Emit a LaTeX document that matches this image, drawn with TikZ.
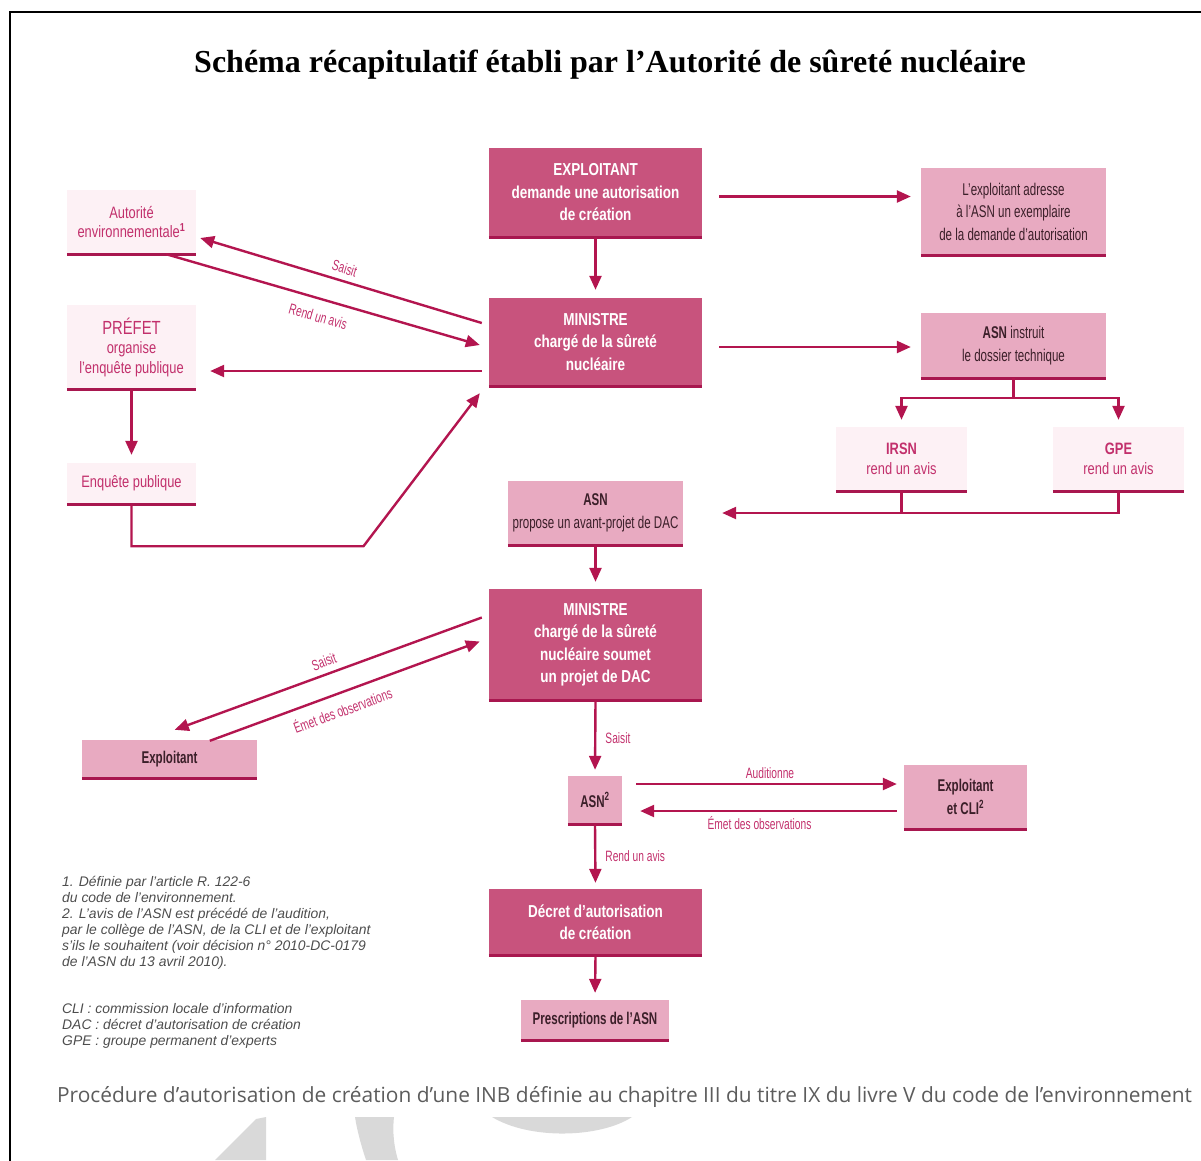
\documentclass[tikz,border=0pt]{standalone}
\usepackage{fontspec}
\setmainfont{Liberation Serif}
\newfontfamily\boxfont[FakeStretch=0.78]{Liberation Sans}
\newfontfamily\slimfont[FakeStretch=0.68]{Liberation Sans}
\newfontfamily\notefont{Liberation Sans}
\newfontfamily\capfont{Open Sans}
\usetikzlibrary{arrows.meta, calc}

\definecolor{asnDark}{HTML}{C8537D}
\definecolor{asnMid}{HTML}{E8AAC1}
\definecolor{asnPale}{HTML}{FDF1F5}
\definecolor{asnLine}{HTML}{A8174F}
\definecolor{asnArrow}{HTML}{B3154F}
\definecolor{asnText}{HTML}{C2306C}
\definecolor{asnInk}{HTML}{3B1F29}
\definecolor{noteGray}{HTML}{4D4D4D}
\definecolor{capGray}{HTML}{5C5C5C}

\tikzset{
  darkbox/.style={fill=asnDark, text=white, align=center, inner sep=0pt,
    font=\boxfont\bfseries\fontsize{17.3}{22.5}\selectfont},
  midbox/.style={fill=asnMid, text=asnInk, align=center, inner sep=0pt,
    font=\slimfont\fontsize{17}{22.5}\selectfont},
  palebox/.style={fill=asnPale, text=asnText, align=center, inner sep=0pt,
    font=\boxfont\fontsize{16.5}{19.5}\selectfont},
  rule/.style={draw=asnLine, line width=3pt},
  lnk/.style={draw=asnArrow, line width=2.4pt},
  arr/.style={lnk, -{Triangle[length=14pt,width=12pt]}},
  lbl/.style={text=asnText, font=\slimfont\fontsize{15}{16}\selectfont, inner sep=1pt},
  note/.style={anchor=north west, align=left, inner sep=0pt, text=noteGray,
    font=\notefont\itshape\fontsize{13.9}{16}\selectfont},
  wmark/.style={fill=black!15}
}

\begin{document}
\begin{tikzpicture}[x=1pt, y=-1pt]
\useasboundingbox (0,0) rectangle (1201,1160);
\draw[line width=2pt] (10,1161) -- (10,12) -- (1202,12);
\node[font=\bfseries\fontsize{32}{36}\selectfont] (titre) at (610,65)
  {Schéma récapitulatif établi par l’Autorité de sûreté nucléaire};

% colonne centrale
\node[darkbox, minimum width=213pt, minimum height=89pt] (expl) at (595.5,192.5)
  {EXPLOITANT\\demande une autorisation\\de création};
\node[darkbox, minimum width=213pt, minimum height=88pt] (min1) at (595.5,342)
  {MINISTRE\\chargé de la sûreté\\nucléaire};
\node[midbox, minimum width=175pt, minimum height=64pt] (asnprop) at (595.5,513)
  {\textbf{ASN}\\propose un avant-projet de DAC};
\node[darkbox, minimum width=213pt, minimum height=111pt] (min2) at (595.5,644.5)
  {MINISTRE\\chargé de la sûreté\\nucléaire soumet\\un projet de DAC};
\node[midbox, minimum width=54pt, minimum height=48pt] (asn2) at (595,800)
  {\textbf{ASN\textsuperscript{2}}};
\node[darkbox, minimum width=213pt, minimum height=66pt] (decret) at (595.5,922)
  {Décret d’autorisation\\de création};
\node[midbox, minimum width=148pt, minimum height=40pt] (prescr) at (595,1020)
  {\textbf{Prescriptions de l’ASN}};

% colonne droite
\node[midbox, minimum width=185pt, minimum height=87pt] (adr) at (1013.5,211.5)
  {L’exploitant adresse\\à l’ASN un exemplaire\\de la demande d’autorisation};
\node[midbox, minimum width=185pt, minimum height=65pt] (instr) at (1013.5,345.5)
  {\textbf{ASN} instruit\\le dossier technique};
\node[palebox, minimum width=131pt, minimum height=64pt] (irsn) at (901.5,459)
  {\textbf{IRSN}\\rend un avis};
\node[palebox, minimum width=131pt, minimum height=64pt] (gpe) at (1118.5,459)
  {\textbf{GPE}\\rend un avis};
\node[midbox, minimum width=123pt, minimum height=64pt] (explcli) at (965.5,797)
  {\textbf{Exploitant}\\\textbf{et CLI\textsuperscript{2}}};

% colonne gauche
\node[palebox, minimum width=129pt, minimum height=64pt] (autenv) at (131.5,222)
  {Autorité\\environnementale\textsuperscript{\bfseries 1}};
\node[palebox, minimum width=129pt, minimum height=84pt] (prefet) at (131.5,347)
  {{\fontsize{19}{21}\selectfont PRÉFET}\\organise\\l’enquête publique};
\node[palebox, minimum width=129pt, minimum height=41pt] (enq) at (131.5,483.5)
  {Enquête publique};
\node[midbox, minimum width=175pt, minimum height=38pt] (explg) at (169.5,759)
  {\textbf{Exploitant}};

\foreach \b in {expl,min1,asnprop,min2,asn2,decret,prescr,adr,instr,irsn,gpe,explcli,autenv,prefet,enq,explg}
  \draw[rule] (\b.south west) -- (\b.south east);

% liaisons
\draw[arr, shorten >=8pt] (expl.south) -- (min1.north);
\draw[arr, shorten >=10pt] ($(expl.east)+(17,4)$) coordinate (e1) -- (e1 -| adr.west);
\draw[arr, shorten >=10pt] ($(min1.east)+(17,5)$) coordinate (e2) -- (e2 -| instr.west);
\draw[lnk] (instr.south) -- ++(0,20) coordinate (fork);
\draw[arr, shorten >=7pt] (fork) -| (irsn.north);
\draw[arr, shorten >=7pt] (fork) -| (gpe.north);
\draw[lnk] (irsn.south) -- (irsn.south |- asnprop.east);
\draw[arr, shorten >=39pt] (gpe.south) |- (asnprop.east);
\draw[arr, shorten >=7pt] (asnprop.south) -- (min2.north);

\draw[arr] ($(min1.west)+(-7,-19)$) -- ($(autenv.east)+(4,16)$)
  node[lbl, midway, sloped, above=5pt] {Saisit};
\draw[arr] ($(autenv.south east)+(-30,0)$) -- ($(min1.west)+(-9,3)$)
  node[lbl, midway, sloped, below=10pt] {Rend un avis};
\draw[arr, shorten >=14pt] ($(min1.west)+(-7,29)$) coordinate (e3) -- (e3 -| prefet.east);
\draw[arr, shorten >=8pt] (prefet.south) -- (enq.north);
\draw[arr] (enq.south) -- ++(0,42) -- ++(232,0) -- ($(min1.south west)+(-9,7)$);

\draw[arr] ($(min2.west)+(-7,-27)$) -- ($(explg.north west)+(93,-10)$)
  node[lbl, midway, sloped, above=5pt] {Saisit};
\draw[arr] ($(explg.north west)+(128,1)$) -- ($(min2.west)+(-9,-3)$)
  node[lbl, pos=0.47, sloped, below=8pt] {Émet des observations};

\draw[arr, shorten >=6pt] (min2.south) -- (asn2.north)
  node[lbl, midway, right=8pt] {Saisit};
\draw[arr, shorten >=7pt] ($(asn2.east)+(14,-16)$) coordinate (e4) -- (e4 -| explcli.west)
  node[lbl, midway, above=3pt] {Auditionne};
\draw[arr, shorten >=18pt] ($(explcli.west)+(-7,14)$) coordinate (e5) -- (e5 -| asn2.east)
  node[lbl, midway, below=3pt] {Émet des observations};
\draw[arr, shorten >=6pt] (asn2.south) -- (decret.north)
  node[lbl, midway, right=8pt] {Rend un avis};
\draw[arr, shorten >=7pt] (decret.south) -- (prescr.north);

% notes
\node[note] (notes) at (62,876)
  {1. Définie par l’article R. 122-6\\
   du code de l’environnement.\\
   2. L’avis de l’ASN est précédé de l’audition,\\
   par le collège de l’ASN, de la CLI et de l’exploitant\\
   s’ils le souhaitent (voir décision n° 2010-DC-0179\\
   de l’ASN du 13 avril 2010).};
\node[note] (sigles) at (62,1003)
  {CLI : commission locale d’information\\
   DAC : décret d’autorisation de création\\
   GPE : groupe permanent d’experts};

\node[text=capGray, font=\capfont\fontsize{20.9}{24}\selectfont] (legende) at (624.5,1097)
  {Procédure d’autorisation de création d’une INB définie au chapitre III du titre IX du livre V du code de l’environnement};

% filigrane
\fill[wmark] (215,1160) -- (256,1119) -- (266,1117) -- (266,1160) -- cycle;
\fill[wmark] (355,1117) -- (394,1117) .. controls (392,1135) and (395,1150) .. (398,1160)
  -- (366,1160) .. controls (361,1145) and (357,1130) .. cycle;
\fill[wmark] (492,1117) -- (632,1117) .. controls (600,1138) and (530,1140) .. cycle;
\end{tikzpicture}
\end{document}
